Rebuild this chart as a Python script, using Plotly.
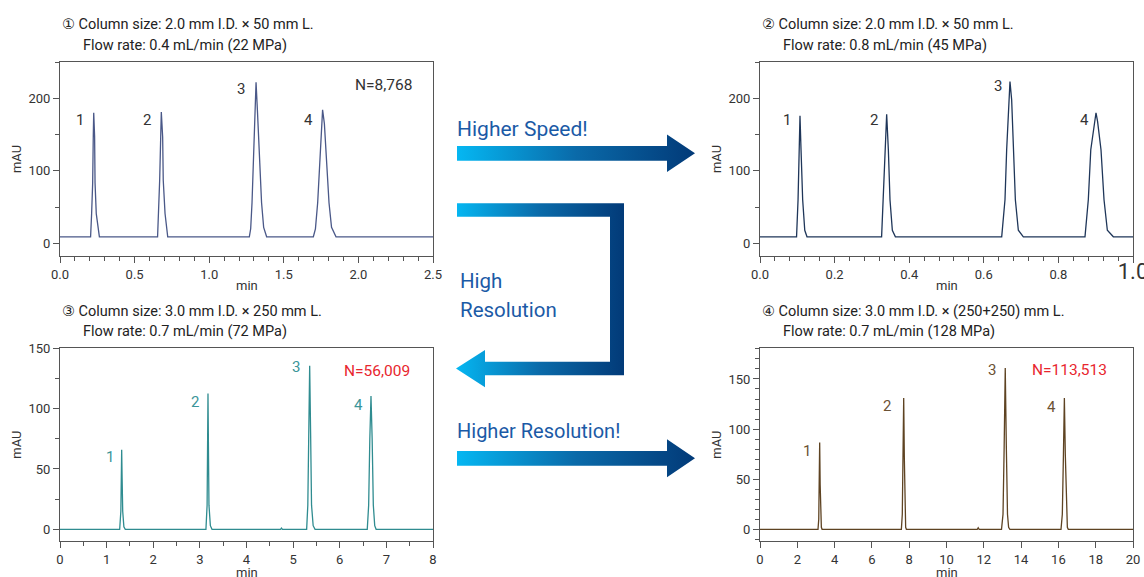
import plotly.graph_objects as go

W, H = 1144, 577

# ---------------- data ----------------
# Panel 1: 2.0 mm I.D. x 50 mm, 0.4 mL/min
t1 = [0.0, 0.205, 0.212, 0.219, 0.223, 0.226, 0.232, 0.235, 0.243, 0.264,
      0.654, 0.661, 0.668, 0.675, 0.679, 0.688, 0.692, 0.704, 0.722,
      1.269, 1.278, 1.287, 1.298, 1.307, 1.314, 1.323, 1.336, 1.351, 1.365, 1.385,
      1.698, 1.712, 1.727, 1.743, 1.752, 1.760, 1.772, 1.785, 1.803, 1.820, 1.850, 2.5]
a1 = [9, 9, 41, 83, 147, 180, 147, 83, 41, 9,
      9, 41, 87, 147, 181, 147, 87, 41, 9,
      9, 20, 56, 124, 184, 222, 184, 124, 56, 22, 9,
      9, 20, 56, 124, 165, 184, 165, 124, 56, 22, 9, 9]
rt1 = [0.226, 0.679, 1.314, 1.760]
h1 = [180, 181, 222, 184]

# Panel 2: 2.0 mm I.D. x 50 mm, 0.8 mL/min
t2 = [0.0, 0.098, 0.102, 0.1046, 0.1072, 0.110, 0.1144, 0.120, 0.126,
      0.326, 0.3306, 0.3351, 0.3396, 0.3441, 0.3485, 0.3548, 0.363,
      0.648, 0.6568, 0.6613, 0.6667, 0.6702, 0.6747, 0.6792, 0.6846, 0.6926, 0.706,
      0.8713, 0.8802, 0.8868, 0.8968, 0.9008, 0.9050, 0.9142, 0.9223, 0.9312, 0.9473, 1.0]
a2 = [9, 9, 60, 129, 176, 129, 60, 18, 9,
      9, 60, 129, 178, 129, 60, 18, 9,
      9, 60, 129, 198, 223, 198, 129, 60, 18, 9,
      9, 60, 129, 168, 180, 168, 129, 60, 18, 9, 9]
rt2 = [0.1072, 0.3396, 0.6702, 0.9008]
h2 = [176, 178, 223, 180]

# Panel 3: 3.0 mm I.D. x 250 mm, 0.7 mL/min
t3 = [0, 1.28, 1.305, 1.315, 1.323, 1.331, 1.345, 1.37, 1.40,
      3.13, 3.155, 3.165, 3.174, 3.183, 3.195, 3.225, 3.26,
      4.73, 4.75, 4.77,
      5.29, 5.315, 5.335, 5.355, 5.375, 5.395, 5.43, 5.47,
      6.59, 6.62, 6.645, 6.67, 6.695, 6.72, 6.75, 6.78, 8.0]
a3 = [0, 0, 15, 45, 66, 45, 15, 2, 0,
      0, 20, 70, 112.5, 70, 20, 3, 0,
      0, 1, 0,
      0, 20, 80, 135.5, 80, 20, 3, 0,
      0, 20, 75, 110.5, 75, 20, 3, 0, 0]
rt3 = [1.323, 3.174, 5.355, 6.67]
h3 = [66, 112.5, 135.5, 110.5]

# Panel 4: 3.0 mm I.D. x (250+250) mm, 0.7 mL/min
t4 = [0, 3.11, 3.15, 3.175, 3.20, 3.225, 3.25, 3.29, 3.33,
      7.58, 7.63, 7.67, 7.705, 7.74, 7.775, 7.81, 7.85,
      11.65, 11.7, 11.75,
      12.95, 13.03, 13.09, 13.15, 13.21, 13.27, 13.33, 13.40,
      16.14, 16.21, 16.27, 16.32, 16.37, 16.43, 16.48, 16.53, 20]
a4 = [0, 0, 10, 45, 86.5, 45, 10, 2, 0,
      0, 15, 70, 131, 70, 15, 2, 0,
      0, 1.5, 0,
      0, 15, 80, 161, 80, 15, 2, 0,
      0, 15, 75, 131, 75, 15, 2, 0, 0]
rt4 = [3.20, 7.705, 13.15, 16.32]
h4 = [86.5, 131, 161, 131]

peak_names = ["1", "2", "3", "4"]
plate_counts = ["N=8,768", None, "N=56,009", "N=113,513"]

titles1 = ["\u2460 Column size: 2.0 mm I.D. \u00d7 50 mm L.",
           "\u2461 Column size: 2.0 mm I.D. \u00d7 50 mm L.",
           "\u2462 Column size: 3.0 mm I.D. \u00d7 250 mm L.",
           "\u2463 Column size: 3.0 mm I.D. \u00d7 (250+250) mm L."]
titles2 = ["Flow rate: 0.4 mL/min (22 MPa)",
           "Flow rate: 0.8 mL/min (45 MPa)",
           "Flow rate: 0.7 mL/min (72 MPa)",
           "Flow rate: 0.7 mL/min (128 MPa)"]

arrow_texts = ["Higher Speed!", "High", "Resolution", "Higher Resolution!"]

# ---------------- layout helpers ----------------
def px(x):
    return x / W

def py(y):
    return 1 - y / H

FONT = "Roboto, 'Noto Sans', 'DejaVu Sans', sans-serif"

panels = [
    dict(t=t1, a=a1, rt=rt1, h=h1, color="#4a5888", lab="#333333", nc="#333333",
         xr=[0, 2.5], yr=[-17.5, 250], xd=[60, 433], yd=[62, 256],
         xdt=0.5, xmin=0.1, ydt=100, ymin=50, fmt=".1f", minpos=(246.5, 285),
         shifts=[(-14, -7), (-14, -8), (-15, -7), (-14, -10)],
         npos=(383, 85), tpos=(60, 25)),
    dict(t=t2, a=a2, rt=rt2, h=h2, color="#1f3659", lab="#333333", nc="#333333",
         xr=[0, 1.0], yr=[-17.5, 250], xd=[760, 1133], yd=[62, 256],
         xdt=0.2, xmin=0.04, ydt=100, ymin=50, fmt=".1f", minpos=(946.5, 285),
         shifts=[(-13, -4), (-13, -6), (-12, -4), (-12, -7)],
         npos=None, tpos=(760, 25)),
    dict(t=t3, a=a3, rt=rt3, h=h3, color="#2f8c90", lab="#3a9599", nc="#e8262e",
         xr=[0, 8], yr=[-9.7, 150], xd=[60, 433], yd=[348.3, 541],
         xdt=1, xmin=0.5, ydt=50, ymin=25, fmt="d", minpos=(246.5, 572.5),
         shifts=[(-12, -7), (-13, -8), (-14, -1), (-12, -9)],
         npos=(377, 371), tpos=(60, 311.7)),
    dict(t=t4, a=a4, rt=rt4, h=h4, color="#5e4322", lab="#6b5234", nc="#e8262e",
         xr=[0, 20], yr=[-11.7, 180.6], xd=[760, 1133], yd=[348.3, 541],
         xdt=2, xmin=None, ydt=50, ymin=10, fmt="d", minpos=(946.5, 572.5),
         shifts=[(-13, -8), (-17, -8), (-13, -2), (-13, -9)],
         npos=(1069, 370), tpos=(760, 311.7)),
]

fig = go.Figure()
annotations = []
layout_axes = {}

for i, p in enumerate(panels):
    k = "" if i == 0 else str(i + 1)
    xa, ya = "x" + k, "y" + k
    fig.add_trace(go.Scatter(x=p["t"], y=p["a"], mode="lines",
                             line=dict(color=p["color"], width=1.3),
                             xaxis=xa, yaxis=ya, hoverinfo="skip", showlegend=False))
    common = dict(showline=True, mirror=True, linecolor="#555555", linewidth=1,
                  ticks="outside", ticklen=6, tickwidth=1, tickcolor="#555555",
                  showgrid=False, zeroline=False, automargin=False, fixedrange=True,
                  ticklabeloverflow="allow",
                  tickfont=dict(size=13, color="#333333", family=FONT))
    xaxis = dict(common, domain=[px(p["xd"][0]), px(p["xd"][1])], range=p["xr"],
                 anchor=ya, tick0=0, dtick=p["xdt"], tickformat=p["fmt"])
    if p["xmin"]:
        xaxis["minor"] = dict(ticks="outside", ticklen=4, tickcolor="#555555",
                              dtick=p["xmin"], tick0=0, showgrid=False)
    if i == 1:
        vals = [0, 0.2, 0.4, 0.6, 0.8, 1.0]
        xaxis["tickmode"] = "array"
        xaxis["tickvals"] = vals
        xaxis["ticktext"] = ["0.0", "0.2", "0.4", "0.6", "0.8",
                             "<span style='font-size:22px'>1.0</span>"]
    yaxis = dict(common, domain=[py(p["yd"][1]), py(p["yd"][0])], range=p["yr"],
                 anchor=xa, tick0=0, dtick=p["ydt"],
                 minor=dict(ticks="outside", ticklen=4, tickcolor="#555555",
                            dtick=p["ymin"], tick0=0, showgrid=False),
                 title=dict(text="mAU", standoff=3,
                            font=dict(size=13, color="#333333", family=FONT)))
    layout_axes["xaxis" + k] = xaxis
    layout_axes["yaxis" + k] = yaxis

    # x-axis title "min"
    mx, my = p["minpos"]
    annotations.append(dict(x=px(mx), y=py(my), xref="paper", yref="paper",
                            xanchor="center", yanchor="middle", text="min",
                            showarrow=False,
                            font=dict(size=13, color="#333333", family=FONT)))

    # peak numbers
    for j, name in enumerate(peak_names):
        dx, dy = p["shifts"][j]
        annotations.append(dict(x=p["rt"][j], y=p["h"][j], xref=xa, yref=ya,
                                xanchor="center", yanchor="middle",
                                text=name, showarrow=False, xshift=dx, yshift=dy,
                                font=dict(size=15, color=p["lab"], family=FONT)))
    # plate count
    if plate_counts[i]:
        annotations.append(dict(x=px(p["npos"][0]), y=py(p["npos"][1]), xref="paper",
                                yref="paper", xanchor="center", yanchor="middle",
                                text=plate_counts[i], showarrow=False,
                                font=dict(size=15.5, color=p["nc"], family=FONT)))
    # panel titles
    tx, ty = p["tpos"]
    annotations.append(dict(x=px(tx), y=py(ty), xref="paper", yref="paper",
                            xanchor="left", yanchor="middle", text=titles1[i],
                            showarrow=False,
                            font=dict(size=14.5, color="#222222", family=FONT)))
    annotations.append(dict(x=px(tx + 21), y=py(ty + 20), xref="paper", yref="paper",
                            xanchor="left", yanchor="middle", text=titles2[i],
                            showarrow=False,
                            font=dict(size=14.5, color="#222222", family=FONT)))

# ---------------- gradient arrows (decoration, pixel frame) ----------------
grad = dict(type="horizontal",
            colorscale=[[0, "#05b7f2"], [0.5, "#0a6aa9"], [1, "#023a78"]])
arrow_shapes = [
    ([457, 667, 667, 695, 667, 667, 457, 457],
     [146, 146, 134.5, 153.3, 172, 160.7, 160.7, 146]),
    ([457, 624, 624, 485, 485, 456, 485, 485, 610, 610, 457, 457],
     [203.3, 203.3, 375.3, 375.3, 387.3, 368.5, 350, 361.7, 361.7, 216.7, 216.7, 203.3]),
    ([457, 667, 667, 695, 667, 667, 457, 457],
     [451, 451, 439.3, 458.3, 477.3, 465.7, 465.7, 451]),
]
for xs, ys in arrow_shapes:
    fig.add_trace(go.Scatter(x=xs, y=ys, mode="lines", fill="toself",
                             fillgradient=grad, line=dict(width=0),
                             xaxis="x5", yaxis="y5", hoverinfo="skip",
                             showlegend=False))
layout_axes["xaxis5"] = dict(domain=[0, 1], range=[0, W], visible=False,
                             anchor="y5", fixedrange=True)
layout_axes["yaxis5"] = dict(domain=[0, 1], range=[H, 0], visible=False,
                             anchor="x5", fixedrange=True)

arrow_text_pos = [(455, 129), (458, 281), (458, 310), (455, 431)]
arrow_text_size = [21, 20.5, 20.5, 20]
for txt, (ax, ay), fs in zip(arrow_texts, arrow_text_pos, arrow_text_size):
    annotations.append(dict(x=px(ax), y=py(ay), xref="paper", yref="paper",
                            xanchor="left", yanchor="middle", text=txt,
                            showarrow=False,
                            font=dict(size=fs, color="#1b5aa6", family=FONT)))

fig.update_layout(
    template="none",
    width=W, height=H,
    margin=dict(l=0, r=0, t=0, b=0),
    paper_bgcolor="white", plot_bgcolor="rgba(0,0,0,0)",
    showlegend=False,
    font=dict(family=FONT, color="#333333"),
    annotations=annotations,
    **layout_axes,
)

fig.write_html("out.html")
